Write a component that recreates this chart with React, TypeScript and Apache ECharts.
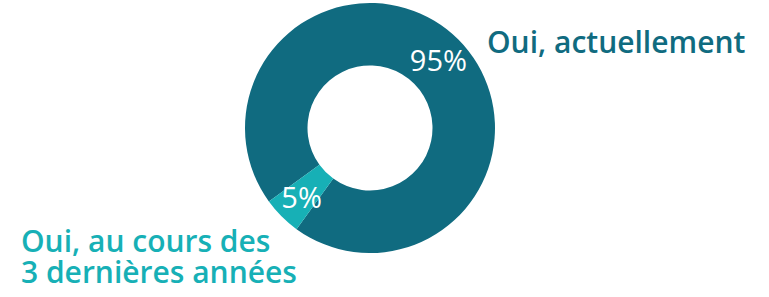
import React, { useEffect, useRef } from "react";
import * as echarts from "echarts";

const categories = ["Oui, actuellement", "Oui, au cours des\n3 dernières années"];
const values = [95, 5];
const colors = ["#106b80", "#17b0b6"];

export default function App() {
  const ref = useRef<HTMLDivElement>(null);
  useEffect(() => {
    if (!ref.current) return;
    const chart = echarts.init(ref.current, undefined, { renderer: "svg" });
    const font = "'Open Sans', 'Noto Sans', sans-serif";
    const lines2 = categories[1].split("\n");
    chart.setOption({
      animation: false,
      series: [
        {
          type: "pie",
          center: [370, 128],
          radius: [62.5, 125],
          startAngle: 216,
          clockwise: true,
          silent: true,
          avoidLabelOverlap: false,
          label: {
            show: true,
            position: "inside",
            color: "#ffffff",
            fontFamily: font,
            fontSize: 29,
            formatter: (p: any) => p.value + "%",
          },
          labelLine: { show: false },
          emphasis: { disabled: true },
          itemStyle: { borderWidth: 0 },
          data: categories.map((name, i) => ({
            name,
            value: values[i],
            itemStyle: { color: colors[i] },
          })),
        },
      ],
      graphic: [
        {
          type: "text",
          left: 487,
          top: 26,
          style: {
            text: categories[0],
            fill: colors[0],
            font: `600 30px ${font}`,
          },
        },
        ...lines2.map((t, i) => ({
          type: "text",
          left: 21,
          top: 225 + i * 31,
          style: {
            text: t,
            fill: colors[1],
            font: `600 30px ${font}`,
          },
        })),
      ],
    });
    return () => chart.dispose();
  }, []);
  return (
    <div
      ref={ref}
      style={{ position: "absolute", left: 0, top: 0, width: 769, height: 297 }}
    />
  );
}
